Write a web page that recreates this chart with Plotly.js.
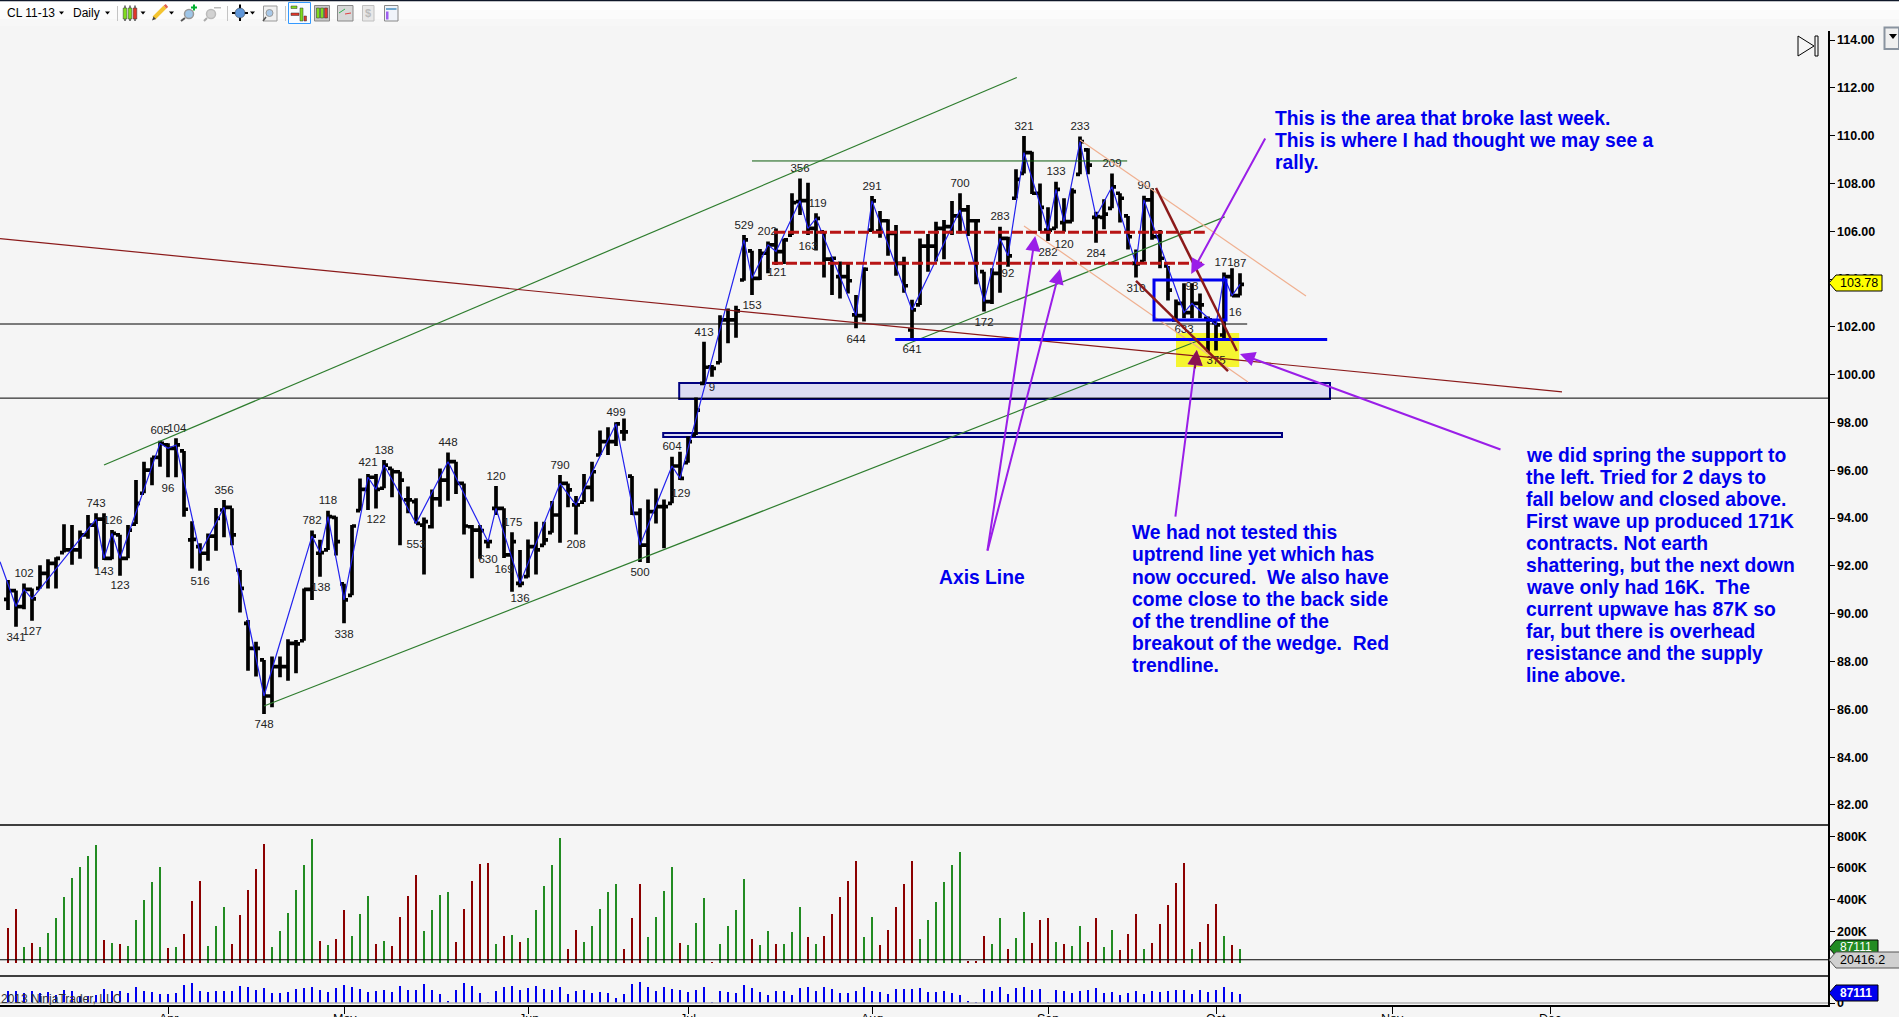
<!DOCTYPE html>
<html><head><meta charset="utf-8">
<script src="https://cdn.plot.ly/plotly-3.0.1.min.js"></script>
<style>html,body{margin:0;padding:0;background:#f5f5f5;overflow:hidden}#c{width:1899px;height:1017px}</style>
</head><body><div id="c"></div>
<script>
// ---------- price bars (CL 11-13, daily) ----------
const high = [91.41,90.97,91.27,91.06,92.03,92.28,92.36,93.74,93.71,93.48,94.13,94.20,94.20,93.50,93.30,93.71,95.59,96.36,96.54,97.24,97.13,97.34,96.81,93.87,92.95,93.36,94.42,94.76,94.41,91.83,89.74,88.83,88.07,88.21,88.21,88.93,88.90,91.06,93.48,93.09,94.31,94.06,91.25,93.71,95.66,95.85,95.85,96.43,96.08,95.94,95.32,94.83,94.03,95.20,96.08,96.75,96.36,95.45,93.71,93.71,93.09,95.34,94.41,93.41,92.67,93.11,93.85,93.85,94.72,95.80,95.45,94.93,95.85,96.36,97.66,97.80,98.01,98.17,95.76,94.41,94.78,95.24,94.78,96.57,96.78,97.41,99.05,101.38,100.40,102.49,102.77,102.88,105.84,105.18,105.26,105.57,106.12,105.70,107.59,108.21,108.03,106.75,105.98,104.93,104.73,104.66,103.33,104.49,107.47,106.85,106.50,106.26,104.93,103.13,105.70,105.89,106.40,106.47,107.27,107.59,107.10,106.44,104.31,104.45,106.19,105.77,108.59,109.98,109.33,108.00,107.00,108.07,107.38,107.80,109.96,109.47,106.82,107.34,108.42,107.59,106.64,105.24,107.49,107.80,106.05,104.55,103.15,103.82,103.82,103.40,102.43,102.18,104.27,104.45,104.24];
const low = [90.16,89.46,90.19,89.71,91.06,91.06,91.06,92.56,92.05,92.30,93.14,91.89,92.25,92.28,91.59,92.32,93.75,95.04,95.37,96.15,95.71,95.71,94.06,91.89,91.80,92.22,92.64,93.20,92.86,90.05,87.62,87.37,85.81,86.09,87.34,87.20,87.51,88.87,90.58,91.55,92.67,92.44,89.60,90.77,94.31,94.34,94.40,95.25,94.87,92.86,94.20,93.78,91.64,93.57,94.48,94.73,95.01,93.31,91.48,92.30,92.74,94.13,92.33,90.92,91.11,91.52,91.64,92.86,93.39,92.97,94.45,93.32,94.67,94.69,96.64,96.64,97.02,97.24,94.13,92.16,92.12,93.78,92.74,94.62,95.59,96.32,97.48,99.57,99.91,100.50,101.31,101.55,103.93,103.33,103.96,104.24,104.59,104.63,105.84,106.68,105.84,105.19,104.07,103.33,103.19,103.40,101.94,102.22,105.98,105.73,104.97,104.14,103.43,101.52,102.92,104.31,104.73,104.83,105.84,105.91,105.80,103.78,102.64,102.96,103.43,104.52,107.38,108.42,107.56,106.01,105.59,106.12,105.98,106.40,108.38,108.38,105.52,106.08,106.96,106.37,105.24,104.07,104.73,105.64,104.45,103.10,102.29,102.36,102.36,102.36,100.96,101.01,101.52,103.27,103.31];
const open = [90.60,90.97,90.30,91.02,91.06,91.69,92.11,92.56,92.67,92.67,93.30,93.71,93.96,92.32,93.30,92.32,93.75,95.04,96.01,96.54,97.06,96.92,96.81,93.09,92.81,92.53,93.25,94.34,94.45,91.83,89.60,88.55,88.07,86.56,87.79,87.79,88.76,88.87,91.02,92.53,92.67,94.03,91.25,90.77,94.31,95.20,95.71,95.25,96.08,95.94,94.76,94.69,93.71,93.64,94.81,95.59,96.36,95.45,93.64,93.50,93.02,94.41,94.41,92.46,91.27,91.55,92.81,92.86,93.39,94.13,95.45,94.55,94.67,95.29,96.64,97.20,97.20,97.61,95.76,94.20,92.87,94.27,94.48,94.62,96.18,96.32,97.48,99.64,100.33,100.50,102.29,102.29,103.96,105.18,104.03,105.08,105.43,105.15,105.84,107.24,107.28,106.12,105.98,104.83,104.10,104.10,102.50,102.47,106.05,106.01,106.44,105.91,104.66,101.87,102.92,105.38,105.38,106.12,106.19,106.64,106.89,106.44,104.31,103.06,104.24,105.70,107.38,108.42,109.29,107.59,106.05,106.12,106.36,106.40,108.38,109.40,106.58,106.58,106.96,107.59,106.64,104.66,104.73,107.31,105.77,104.55,102.29,102.98,102.60,102.98,102.36,102.18,101.66,104.10,103.31];
const close = [90.97,90.30,91.02,90.62,91.69,92.11,92.32,92.67,92.67,93.30,93.71,93.96,92.32,93.36,92.32,93.50,94.62,96.01,96.54,97.13,96.92,97.06,94.37,93.11,92.53,93.25,93.99,94.45,93.30,91.06,88.55,88.55,86.56,87.79,87.79,88.76,88.74,91.02,93.25,92.56,94.06,93.02,90.58,93.67,95.20,95.71,95.20,96.22,95.94,95.59,94.76,93.78,93.85,94.81,95.59,96.36,95.45,93.67,93.50,93.48,93.02,94.41,92.46,93.02,91.27,92.81,92.67,93.09,94.13,95.45,95.18,94.55,95.29,95.94,97.20,97.20,97.94,97.61,94.20,92.87,94.27,94.48,94.48,96.18,95.66,97.20,98.52,100.31,100.26,102.29,102.29,102.67,105.64,104.03,105.08,105.43,105.15,105.64,107.20,107.28,106.12,106.54,104.83,104.87,104.10,103.93,102.47,104.41,107.27,106.44,105.91,104.66,103.72,102.71,105.38,105.38,106.12,106.19,106.64,106.89,106.44,106.44,103.06,104.24,105.70,104.97,108.17,109.29,107.59,107.00,106.05,107.75,106.40,107.66,109.75,108.77,106.61,106.72,107.86,107.38,105.77,104.63,107.31,105.77,104.87,103.54,102.98,102.60,102.98,102.92,102.29,102.08,104.10,103.31,103.78];
const barIndex = close.map((_, i) => i);

// ---------- volume (thousands of contracts) ----------
const volume = [221,340,101,126,101,189,284,416,536,605,675,744,145,126,120,107,271,397,511,605,94,101,183,391,517,107,233,353,120,303,460,593,751,101,202,315,460,618,782,139,113,151,334,170,309,423,120,139,107,290,423,555,202,334,429,448,132,340,517,624,631,120,170,176,132,157,334,486,618,788,88,208,132,233,340,448,498,88,284,498,164,290,454,605,126,113,252,
 410,6,120,233,334,530,151,113,202,120,120,195,353,164,120,170,309,416,517,643,164,290,113,208,353,498,643,151,271,385,511,618,700,12,12,170,120,284,88,157,322,126,271,284,132,120,107,233,132,284,101,208,82,183,309,88,126,246,366,505,631,88,132,246,372,170,113,88];
const volumeDir = ('rrgrgggggggg'+'rgrggggg'+'rgrrr'+'ggg'+'rrrrr'+'gggggg'+'rgrr'+'ggg'+'rgrrrr'+'gggg'+'rrrrr'+'grgrggggg'+'rr'+'ggggg'+'rrr'+'gggg'+'rgg'+
  'grggggrggr'+'gggrgrrrrr'+'ggrrrrrggg'+'gggrrrggrg'+'grrrgrggrr'+'ggrrrgrrrr'+'rgrrrgrg').split('');
// lower pane indicator
const waveIndicator = [37,37,30,37,31,34,25,40,37,22,22,25,43,37,37,31,49,37,34,28,28,31,55,61,37,34,37,37,37,52,49,40,46,31,31,34,43,46,49,40,34,46,55,49,43,34,37,40,34,52,40,40,58,40,28,7,40,61,52,31,4,37,49,52,40,46,52,43,40,49,28,37,40,31,34,31,16,28,58,64,49,37,49,43,40,34,40,
 49,4,37,34,31,55,46,34,25,37,37,25,46,49,37,49,43,31,31,37,49,37,34,28,43,43,43,46,34,34,37,31,25,7,4,43,37,49,28,46,49,40,43,4,40,37,31,37,40,46,31,34,25,31,37,28,37,34,37,40,40,28,40,34,40,49,34,28];

// ---------- swing line: the bars it turns at ----------
const swingBars = [1,2,3,11,12,13,14,19,20,21,24,27,32,38,39,40,42,45,46,47,51,55,60,61,64,69,71,76,79,83,84,92,93,95,96,99,100,101,106,108,113,119,122,124,125,127,130,131,132,134,136,138,141,142,147,148,151,152,153,154];

// ---------- swing labels ----------
const swingText  = ['102','341','127','743','126','143','123','605','104','96','516','356','748','782','118','138','338','421','122','138','553','448','120','630','175','169','136','790','208','499','500','129','604','413','9','153','121','163','529','202','356','119','644','291','641','700','172','283','92','321','133','233','282','120','284','209','90','310','93','633','375','171','87','16'];
const swingTextX = [2,1,3,11,13.1,12,14,19,21.1,20,24,27,32,38,40,39.1,42,45,46,47,51,55,61,60,63.1,62,64,69,71,76,79,84.1,83,87,88,93,96.1,100,92,94.9,99,101.2,106,108,113,119,122,124,125,127,131,134,130,132,136,138,142,141,148,147,151,152,154,153.4];
const swingTextY = [91.66,88.97,89.24,94.59,93.88,91.75,91.16,97.64,97.71,95.23,91.33,95.15,85.35,93.88,94.72,91.08,89.11,96.28,93.92,96.81,92.88,97.14,95.71,92.25,93.80,91.83,90.62,96.18,92.85,98.41,91.71,95.01,96.99,101.73,99.43,102.87,104.26,105.35,106.22,105.98,108.60,107.14,101.45,107.84,101.03,107.98,102.16,106.60,104.21,110.36,108.48,110.36,105.08,105.43,105.05,108.81,107.89,103.57,103.65,101.87,100.55,104.66,104.63,102.58];

// ---------- drawing tools: [bar0, price0, bar1, price1] ----------
const greenChannel = [[12,96.22,126.1,112.43],[32,86.14,149,101.45],[112.1,101.24,152.1,106.60]];
const thinGreen    = [[93,108.94,139.9,108.94]];
const blackLevels  = [[-1,102.12,154.9,102.12],[-1,99.02,227.5,99.02]];
const redTrend     = [[-1,105.69,194.25,99.28]];
const redDashed    = [[95.75,105.96,149.6,105.96],[95.5,104.66,149.25,104.66]];
const blueLevel    = [[110.9,101.47,164.9,101.47]];
const salmonLines  = [[134,109.82,162.25,103.29],[127,106.22,155,99.69]];
const brownLines   = [[143.5,107.81,153.6,100.99],[141,103.92,152.5,100.15]];
const blueBox      = [143.25,103.96,152.25,102.29];
const yellowBox    = [146,101.74,153.9,100.32];
const supplyBoxes  = [[83.9,99.65,165.25,98.98],[81.9,97.56,159.25,97.39]];
// purple arrows: [tail bar, tail price, tip bar, tip price]
const purpleArrows = [[122.4,92.58,128.4,105.80],[122.4,92.58,131.5,104.42],[157.25,109.94,147.9,104.21],[145.9,94.0,148.6,101.03],[186.75,96.85,154,100.87]];

// ---------- notes ----------
const noteTopRight = ['This is the area that broke last week.','This is where I had thought we may see a','rally.'];
const noteAxis     = ['Axis Line'];
const noteUptrend  = ['We had not tested this','uptrend line yet which has','now occured.\u00a0 We also have','come close to the back side','of the trendline of the','breakout of the wedge.\u00a0 Red','trendline.'];
const noteSpring   = ['we did spring the support to','the left. Tried for 2 days to','fall below and closed above.','First wave up produced 171K','contracts. Not earth','shattering, but the next down','wave only had 16K.\u00a0 The','current upwave has 87K so','far, but there is overhead','resistance and the supply','line above.'];

// ---------- axes ----------
const priceTicks = [82,84,86,88,90,92,94,96,98,100,102,104,106,108,110,112,114];
const volTicks = [200,400,600,800];
const volTickText = ['200K','400K','600K','800K'];
const monthTicks = [20,42.1,65.1,85,108,130,151,173.1,192.75];
const monthText = ['Apr','May','Jun','Jul','Aug','Sep','Oct','Nov','Dec'];
const lastPrice = 103.78, lastVolume = '87111', volAverage = 20.4162, volAverageText = '20416.2';

// ---------- layout frame (window pixels to paper) ----------
const PW = 1828, PH = 1005;
const px = x => x / PW, py = y => (PH - y) / PH;
const FONT = '"Liberation Sans", Arial, sans-serif';
const shapes = [], annos = [];
const seg = (a, color, width, dash, layer) => shapes.push({type:'line',xref:'x',yref:'y',x0:a[0],y0:a[1],x1:a[2],y1:a[3],line:{color,width,dash:dash||'solid'},layer:layer||'above'});
const rectP = (x0,y0,x1,y1,fill,lc,lw) => shapes.push({type:'rect',xref:'paper',yref:'paper',x0:px(x0),x1:px(x1),y0:py(y0),y1:py(y1),fillcolor:fill||'rgba(0,0,0,0)',line:{color:lc||'rgba(0,0,0,0)',width:lw||0},layer:'above'});
const lineP = (x0,y0,x1,y1,color,w) => shapes.push({type:'line',xref:'paper',yref:'paper',x0:px(x0),x1:px(x1),y0:py(y0),y1:py(y1),line:{color,width:w||1},layer:'above'});
const polyP = (pts,fill,lc,lw) => shapes.push({type:'path',xref:'paper',yref:'paper',path:'M'+pts.map(p=>px(p[0])+','+py(p[1])).join(' L')+' Z',fillcolor:fill,line:{color:lc||'rgba(0,0,0,0)',width:lw||0},layer:'above'});
const circP = (cx,cy,r,fill,lc,lw) => shapes.push({type:'circle',xref:'paper',yref:'paper',x0:px(cx-r),x1:px(cx+r),y0:py(cy+r),y1:py(cy-r),fillcolor:fill,line:{color:lc||'rgba(0,0,0,0)',width:lw||0},layer:'above'});
const textP = (x,y,t,size,color,anchor,bold) => annos.push({xref:'paper',yref:'paper',x:px(x),y:py(y),text:bold?'<b>'+t+'</b>':t,showarrow:false,xanchor:anchor||'left',yanchor:'middle',font:{family:FONT,size,color},borderpad:0,borderwidth:0});

// month names sit on the window's bottom edge, as in the reference
monthTicks.forEach((v,i)=>annos.push({xref:'x',yref:'paper',x:v,y:py(1019),text:monthText[i],showarrow:false,xanchor:'center',yanchor:'middle',font:{family:FONT,size:12.5,color:'#000'},borderpad:0,borderwidth:0}));

// drawing tools, data coordinates
shapes.push({type:'rect',xref:'x',yref:'y',x0:yellowBox[0],y0:yellowBox[1],x1:yellowBox[2],y1:yellowBox[3],fillcolor:'#f5f530',line:{width:0},layer:'below'});
supplyBoxes.forEach(b=>shapes.push({type:'rect',xref:'x',yref:'y',x0:b[0],y0:b[1],x1:b[2],y1:b[3],fillcolor:'#dcdcf2',line:{color:'#000080',width:2},layer:'below'}));
blackLevels.forEach(a=>seg(a,'#000000',1,null,'below'));
thinGreen.forEach(a=>seg(a,'#0b5d0b',1));
greenChannel.forEach(a=>seg(a,'#2e7d2e',1.2));
salmonLines.forEach(a=>seg(a,'#f0b090',1.2));
redTrend.forEach(a=>seg(a,'#8b1a1a',1.2));
redDashed.forEach(a=>seg(a,'#b81414',3,'11px,3px'));
blueLevel.forEach(a=>seg(a,'#0000ee',3));
shapes.push({type:'rect',xref:'x',yref:'y',x0:blueBox[0],y0:blueBox[1],x1:blueBox[2],y1:blueBox[3],fillcolor:'rgba(0,0,0,0)',line:{color:'#0000ee',width:3},layer:'above'});
brownLines.forEach(a=>seg(a,'#8b1a1a',2.5));

// arrows
purpleArrows.forEach(a=>annos.push({x:a[2],y:a[3],ax:a[0],ay:a[1],xref:'x',yref:'y',axref:'x',ayref:'y',text:'',showarrow:true,arrowhead:2,arrowsize:1.5,arrowwidth:2,arrowcolor:'#9a1ee8',standoff:0}));
// the tip over the yellow box reads darker
annos.push({x:148.6,y:101.03,ax:148.35,ay:100.2,xref:'x',yref:'y',axref:'x',ayref:'y',text:'',showarrow:true,arrowhead:2,arrowsize:1.5,arrowwidth:2,arrowcolor:'#8b1050',standoff:0});

// notes
const note = (lines,bar,price) => lines.forEach((t,i)=>annos.push({x:bar,y:price-i*0.9215,xref:'x',yref:'y',text:t,showarrow:false,xanchor:'left',yanchor:'middle',font:{family:FONT,size:19.3,color:'#0000ee',weight:700}}));
note(noteTopRight,158.1,110.71);
note(noteAxis,116.1,91.51);
note(noteUptrend,140.2,93.38);
note(noteSpring,189.45,96.62);

// pane separators
lineP(0,825,PW,825,'#000',1.5);
lineP(0,976,PW,976,'#000',1.5);
lineP(0,1003,PW,1003,'#b0b0b0',1.5);
textP(1,999,'2013 NinjaTrader, LLC',12,'#333');

// value tags
const tag = (x1,yc,fill,lc) => polyP([[1829,yc],[1836,yc-8],[x1,yc-8],[x1,yc+8],[1836,yc+8]],fill,lc,1);
tag(1878,948,'#228b22','#000');
tag(1905,960,'#d0d0d0','#555');
tag(1882,283,'#ffff00','#000');
tag(1878,993,'#0000ee','#000');
textP(1840,282.5,lastPrice.toFixed(2),12.5,'#000');
textP(1840,947,lastVolume,12,'#fff');
textP(1840,960,volAverageText,12.5,'#000');
textP(1840,993,lastVolume,12,'#fff',null,true);

// right end markers
polyP([[1798,36],[1814,46],[1798,56]],'rgba(0,0,0,0)','#000',1);
rectP(1815,36,1818,56,'rgba(0,0,0,0)','#000',1);
rectP(1884.5,27.5,1899,49,'#f0f0f0','#8a94a0',2);
polyP([[1889,34],[1897,34],[1893,39]],'#000');

// toolbar
rectP(0,0,1899,1.5,'#10182a');
rectP(0,1.5,1899,10,'#ffffff');
rectP(0,10,1899,19,'#fbfbfb');
rectP(0,19,1899,26,'#f7f7f7');
textP(7,13,'CL 11-13',12,'#000');
textP(73,13,'Daily',12,'#000');
[61.5,107.5,143,171.5,252.5].forEach(x=>polyP([[x-2.5,11.5],[x+2.5,11.5],[x,14.5]],'#000'));
[117.5,227.5,285.5].forEach(x=>lineP(x,6,x,21,'#c4c4c4',1));
// bars icon
[[125,'#7fdc1e'],[130,'#7fdc1e'],[135,'#e0362a']].forEach(c=>{lineP(c[0],5.5,c[0],21,'#000',1);rectP(c[0]-1.8,8,c[0]+1.8,19,c[1],'#333',0.5);});
// pencil
lineP(154,18,165,7,'#f4c430',4);polyP([[152,20.5],[156,19],[153.5,16.5]],'#444');lineP(165,7,167,5.5,'#e06050',4);
// zoom in / out
circP(189,14,4.5,'#9fc6e8','#999',1.5);lineP(185,18,181,21,'#555',2);rectP(191,6.5,197,8.5,'#00b030');rectP(193,4.5,195,10.5,'#00b030');
circP(211,14,4.5,'#d2d2d2','#bbb',1.5);lineP(207,18,204,21,'#aaa',2);rectP(214,7,221,8.5,'#bbb');
// crosshair globe
lineP(240,4.5,240,21,'#000',2);lineP(232,13,248,13,'#000',2);circP(240,13,5,'#5f96d8','#333',0.5);
// zoom box
rectP(263.5,6,277,21,'#f0f0f0','#999',1);circP(269.5,13,3.5,'#a8c8e8','#999',1);lineP(266,17,263,21,'#555',1.5);
// active tab
rectP(288.5,2.5,310.5,23.5,'#f8fbff','#3399ff',1);
rectP(291,6,297,8.5,'#7fdc1e','#333',0.5);rectP(291,13,299,15.5,'#e0362a','#333',0.5);rectP(300,8,303,21,'#7fdc1e','#333',0.5);rectP(304,16,306.5,21,'#e0362a','#333',0.5);
// other tabs
rectP(314.5,5.5,329.5,21,'#c8c8c8','#888',1);
[318,322,326].forEach((x,i)=>rectP(x-1.5,8,x+1.5,18,i==2?'#e0362a':'#7fdc1e','#333',0.5));
rectP(337.5,5.5,353,21,'#d8d8d8','#888',1);lineP(339,13,345,9,'#30b050',1);lineP(345,14,351,13,'#e04040',1);
rectP(362.5,5.5,374,21,'#e8e8e8','#c0c0c0',1);textP(368,13,'$',11,'#bbb','center',true);
rectP(384.5,5.5,398,21,'#f0f4fa','#888',1);rectP(386,8,396.5,10,'#70a8d0');rectP(386,11.5,388.5,19.5,'#a060f0');

// ---------- traces ----------
const swingX = [-1].concat(swingBars), swingY = [92.18].concat(swingBars.map(i=>close[i]));
const traces = [
 {type:'ohlc',x:barIndex,open,high,low,close,xaxis:'x',yaxis:'y',tickwidth:0.5,
  increasing:{line:{color:'#000',width:3.7}},decreasing:{line:{color:'#000',width:3.7}},hoverinfo:'skip',showlegend:false},
 {type:'scatter',mode:'lines',x:swingX,y:swingY,xaxis:'x',yaxis:'y',line:{color:'#2222ee',width:1.2},hoverinfo:'skip',showlegend:false,cliponaxis:true},
 {type:'scatter',mode:'text',x:swingTextX,y:swingTextY,text:swingText,textposition:'middle center',xaxis:'x',yaxis:'y',textfont:{family:FONT,size:11.5,color:'#222'},hoverinfo:'skip',showlegend:false},
 {type:'bar',x:barIndex,y:volume,xaxis:'x',yaxis:'y2',width:0.26,marker:{color:volumeDir.map(d=>d==='g'?'#228b22':'#8b0000'),line:{width:0}},hoverinfo:'skip',showlegend:false},
 {type:'scatter',mode:'lines',x:[-1,227.5],y:[volAverage,volAverage],xaxis:'x',yaxis:'y2',line:{color:'#000',width:1.2},hoverinfo:'skip',showlegend:false},
 {type:'bar',x:barIndex,y:waveIndicator,xaxis:'x',yaxis:'y3',width:0.3,marker:{color:'#0000ee',line:{width:0}},hoverinfo:'skip',showlegend:false}
];

const yCommon = {side:'right',showgrid:false,zeroline:false,showline:true,linecolor:'#000',linewidth:1.5,ticks:'outside',ticklen:5,tickcolor:'#000',tickwidth:1,tickfont:{family:FONT,size:12.5,color:'#000',weight:700},anchor:'x',fixedrange:true};
const layout = {
 width:1899,height:1017,paper_bgcolor:'#f5f5f5',plot_bgcolor:'#f5f5f5',showlegend:false,bargap:0,hovermode:false,
 margin:{l:0,r:71,t:0,b:12,pad:0},
 xaxis:{domain:[0,1],range:[-1,227.5],anchor:'y3',showgrid:false,zeroline:false,showline:true,linecolor:'#000',linewidth:1.5,ticks:'outside',ticklen:7,tickcolor:'#000',tickwidth:1,tickmode:'array',tickvals:monthTicks,ticktext:monthText,showticklabels:false,rangeslider:{visible:false},fixedrange:true},
 yaxis:Object.assign({},yCommon,{domain:[py(825),py(31)],range:[114-(825-40)/23.906,114-(31-40)/23.906],tickmode:'array',tickvals:priceTicks,ticktext:priceTicks.map(v=>v.toFixed(2))}),
 yaxis2:Object.assign({},yCommon,{domain:[py(976),py(825)],range:[(963-976)/0.1585,(963-825)/0.1585],tickmode:'array',tickvals:volTicks,ticktext:volTickText}),
 yaxis3:Object.assign({},yCommon,{domain:[0,py(976)],range:[-6,81],tickmode:'array',tickvals:[0],ticktext:['0']}),
 shapes,annotations:annos
};
Plotly.newPlot('c',traces,layout,{displayModeBar:false,staticPlot:true});
</script></body></html>
